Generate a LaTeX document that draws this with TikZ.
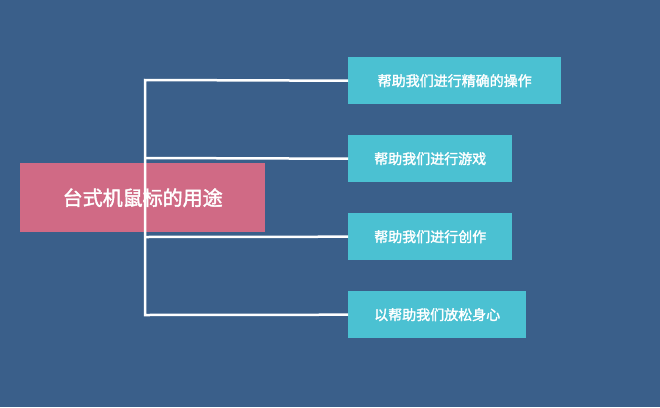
\documentclass[tikz,border=0pt]{standalone}
\usepackage{fontspec}
\setmainfont{Noto Sans CJK SC}[AutoFakeBold=2]
\definecolor{bg}{HTML}{3A5F8A}
\definecolor{pinkb}{HTML}{D06A85}
\definecolor{tealb}{HTML}{4BC1D2}
\begin{document}
\begin{tikzpicture}[x=1pt,y=-1pt,
  leaf/.style={fill=tealb,text=white,font=\fontsize{14}{16}\selectfont\bfseries,anchor=north west,inner sep=0pt,minimum height=47,align=center},
  conn/.style={draw=white,line width=2.5pt}]
\fill[bg] (0,0) rectangle (660,407);
\useasboundingbox (0,0) rectangle (660,407);
\node[fill=pinkb,text=white,font=\fontsize{20}{24}\selectfont\bfseries,anchor=north west,minimum width=245,minimum height=69,inner sep=0pt] (root) at (20,163) {台式机鼠标的用途};
\node[leaf,minimum width=213] (a) at (348,57) {帮助我们进行精确的操作};
\node[leaf,minimum width=164] (b) at (348,135) {帮助我们进行游戏};
\node[leaf,minimum width=164] (c) at (348,213) {帮助我们进行创作};
\node[leaf,minimum width=178] (d) at (348,291) {以帮助我们放松身心};
\coordinate (top) at (145,80);
\coordinate (bot) at (145,315);
\draw[conn] (a.west) -- (top) -- (bot) -- (d.west);
\draw[conn] (145,158) -- (b.west);
\draw[conn] (145,237) -- (c.west);
\end{tikzpicture}
\end{document}
